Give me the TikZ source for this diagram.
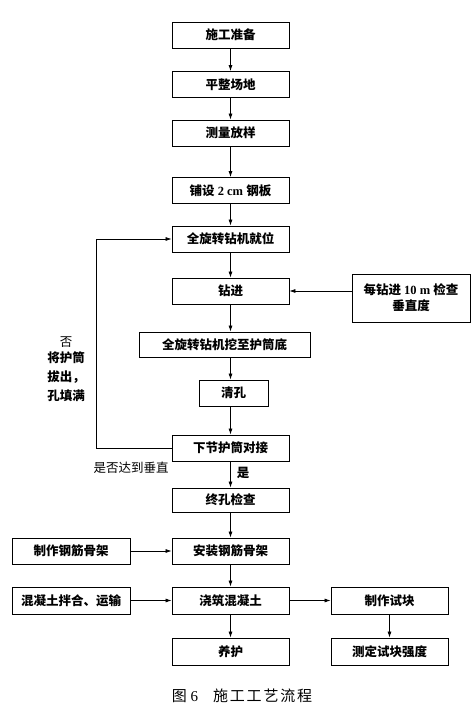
\documentclass[tikz,border=0pt]{standalone}
\usepackage{fontspec}
\setmainfont{Noto Sans CJK SC}
\newfontfamily\latin{Liberation Serif}
\newfontfamily\capfont[LetterSpace=12]{Noto Sans CJK SC}
\usetikzlibrary{arrows.meta}

\tikzset{
  stepbox/.style={draw, line width=0.8pt, minimum width=117pt, minimum height=26pt, inner sep=0pt,
    font=\fontsize{12.5}{16}\selectfont\bfseries},
  flow/.style={draw, line width=0.7pt, -{Latex[length=6pt,width=4pt]}},
  note/.style={font=\fontsize{12.5}{19}\selectfont, inner sep=0pt}
}

\begin{document}
\begin{tikzpicture}[x=1pt, y=-1pt]
  \useasboundingbox (0,0) rectangle (476,714);
  % main column
  \node[stepbox] (prep) at (230.5,35) {施工准备};
  \node[stepbox] (level) at (230.5,84.5) {平整场地};
  \node[stepbox] (survey) at (230.5,133) {测量放样};
  \node[stepbox] (plate) at (230.5,190.5) {铺设{\latin\ 2 cm }钢板};
  \node[stepbox] (place) at (230.5,239) {全旋转钻机就位};
  \node[stepbox] (drill) at (230.5,291) {钻进};
  \node[stepbox, minimum width=171pt, minimum height=25pt] (dig) at (224.5,344.5) {全旋转钻机挖至护筒底};
  \node[stepbox, minimum width=69pt] (clean) at (233.5,393) {清孔};
  \node[stepbox] (joint) at (230.5,448) {下节护筒对接};
  \node[stepbox, minimum height=24pt] (final) at (230.5,500) {终孔检查};
  \node[stepbox] (cage) at (230.5,551) {安装钢筋骨架};
  \node[stepbox, minimum height=27pt] (pour) at (230.5,600.5) {浇筑混凝土};
  \node[stepbox, minimum height=27pt] (cure) at (230.5,651.5) {养护};
  % side boxes
  \node[stepbox, minimum width=118pt, minimum height=48pt, align=center] (check) at (411,298)
    {每钻进{\latin\ 10 m }检查\\垂直度};
  \node[stepbox, minimum width=118pt] (makecage) at (71,551) {制作钢筋骨架};
  \node[stepbox, minimum width=118pt, minimum height=27pt] (mix) at (71,600.5) {混凝土拌合、运输};
  \node[stepbox, minimum height=27pt] (sample) at (389.5,600.5) {制作试块};
  \node[stepbox, minimum height=27pt] (test) at (389.5,651.5) {测定试块强度};

  \draw[flow] (prep) -- (level);
  \draw[flow] (level) -- (survey);
  \draw[flow] (survey) -- (plate);
  \draw[flow] (plate) -- (place);
  \draw[flow] (place) -- (drill);
  \draw[flow] (drill.south) -- (drill.south |- dig.north);
  \draw[flow] (dig.south -| drill.south) -- (drill.south |- clean.north);
  \draw[flow] (clean.south -| drill.south) -- (joint.north);
  \draw[flow] (joint) -- (final);
  \draw[flow] (final) -- (cage);
  \draw[flow] (cage) -- (pour);
  \draw[flow] (pour) -- (cure);
  \draw[flow] (sample) -- (test);
  \draw[flow] (check.west |- drill.east) -- (drill.east);
  \draw[flow] (makecage) -- (cage);
  \draw[flow] (mix) -- (pour);
  \draw[flow] (pour) -- (sample);
  \draw[flow] (joint.west) -- ++(-75,0) |- (place.west);

  % labels
  \node[note] (no) at (66,342) {否};
  \node[note, align=left, font=\fontsize{12.5}{19}\selectfont\bfseries] (pull) at (66,377) {将护筒\\拔出，\\孔填满};
  \node[note] (vert) at (131,468) {是否达到垂直};
  \node[note, font=\fontsize{12.5}{19}\selectfont\bfseries] (yes) at (243,473) {是};
  \node[font=\fontsize{15}{18}\selectfont\capfont] (cap) at (242,696) {图{\latin\ 6}\quad 施工工艺流程};
\end{tikzpicture}
\end{document}
